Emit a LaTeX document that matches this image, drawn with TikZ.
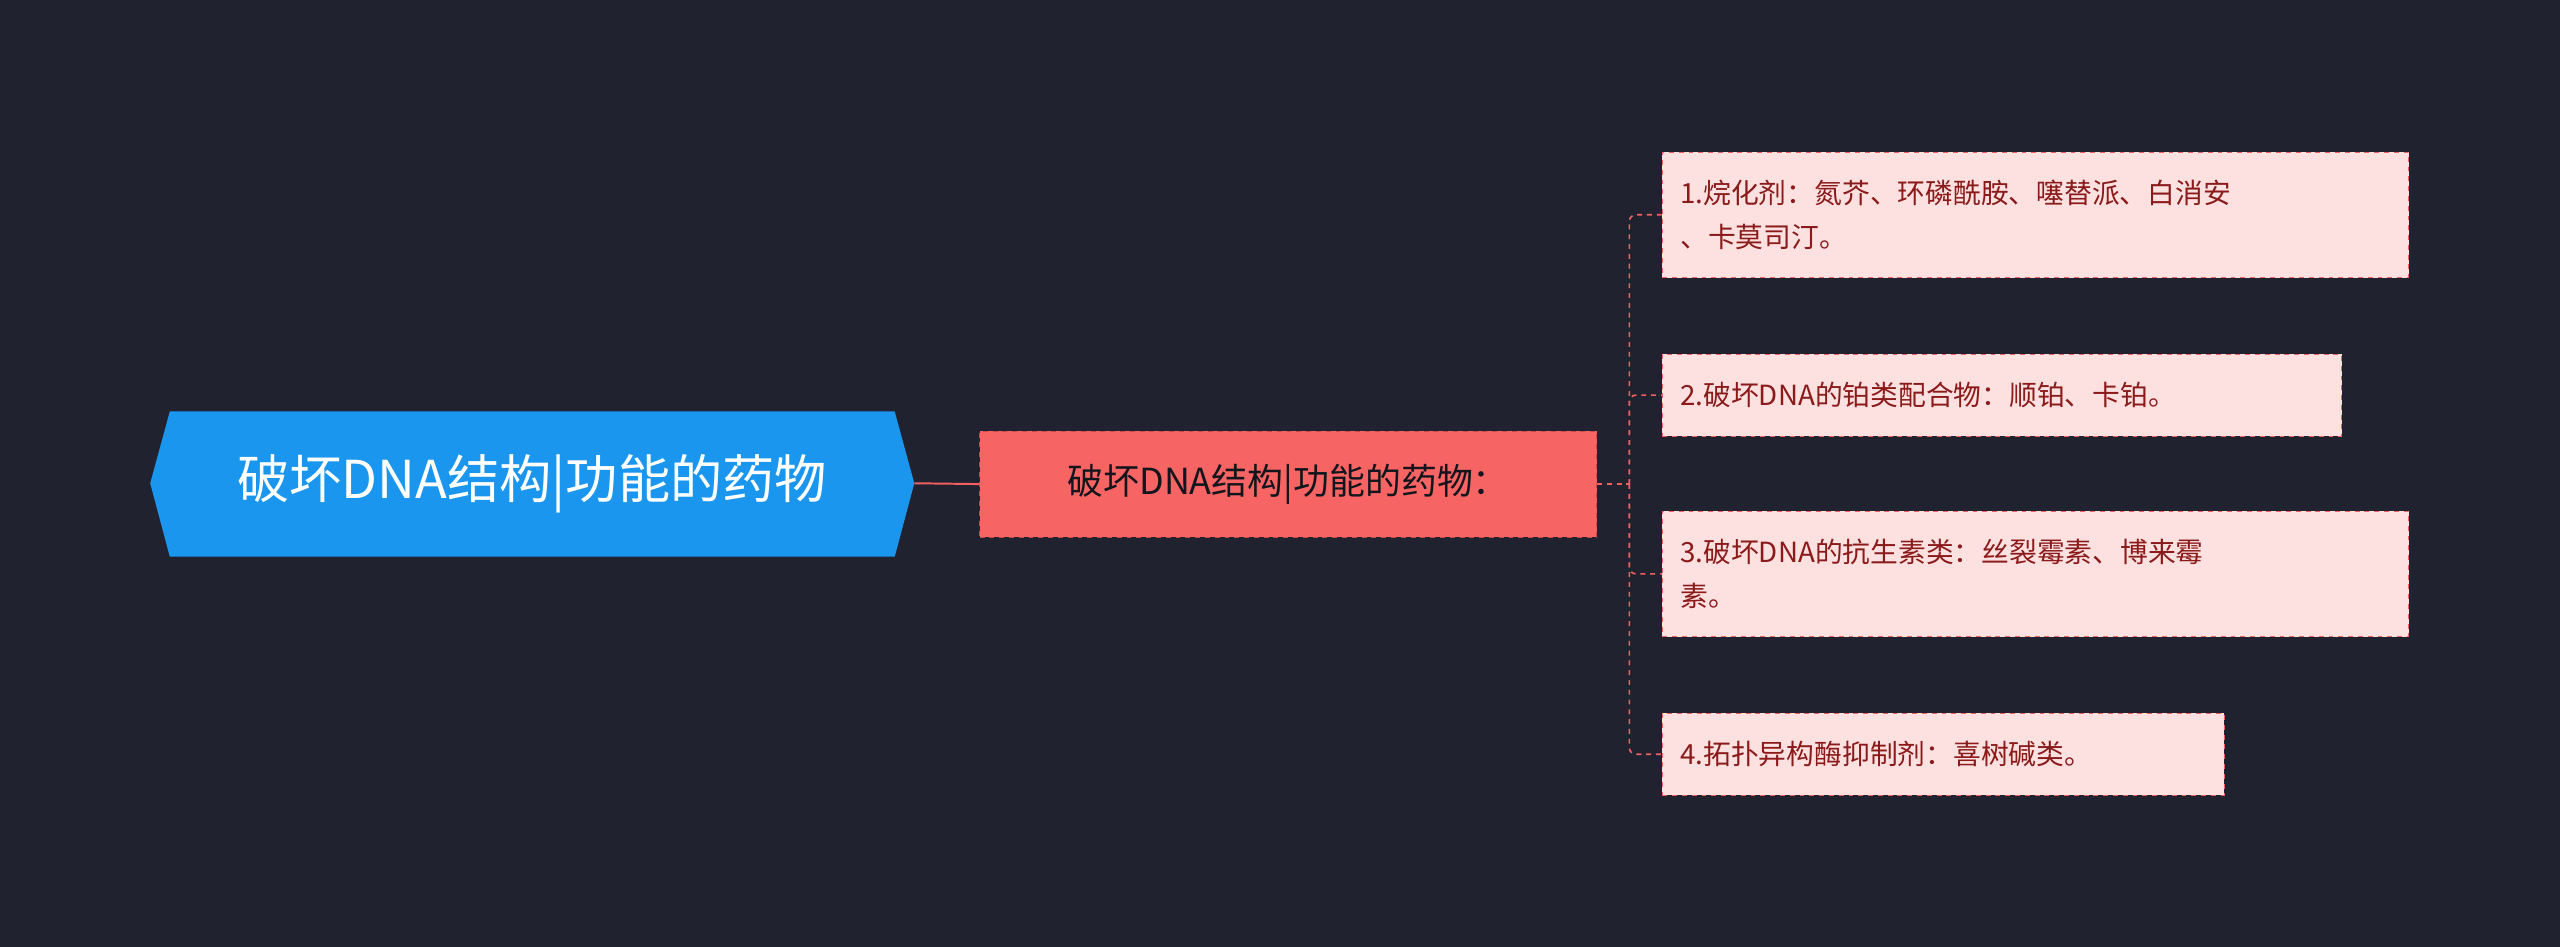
\documentclass[tikz,border=0pt]{standalone}
\usepackage{fontspec}
\setmainfont{Noto Sans CJK SC}
\definecolor{bg}{HTML}{20232F}
\definecolor{rootc}{HTML}{1A96EE}
\definecolor{midc}{HTML}{F76464}
\definecolor{midb}{HTML}{C94A4A}
\definecolor{leafc}{HTML}{FDE0E0}
\definecolor{leaft}{HTML}{8B1A1A}
\definecolor{linec}{HTML}{F06060}
\begin{document}
\begin{tikzpicture}[x=1pt,y=-1pt,
 leaf/.style={draw=linec,dashed,fill=leafc,text=leaft,font=\fontsize{17}{27}\selectfont,anchor=west,align=left,inner xsep=11pt,inner ysep=0pt},
 conn/.style={draw=linec,line width=1.2pt}]
\useasboundingbox[fill=bg] (0,0) rectangle (1568,580);
\fill[rootc] (92,296) -- (104,252) -- (548,252) -- (560,296) -- (548,341) -- (104,341) -- cycle;
\node[text=white,font=\fontsize{32}{36}\selectfont] (root) at (326,296) {破坏DNA结构|功能的药物};
\coordinate (rootE) at (560,296);
\node[draw=midb,dashed,fill=midc,text=bg!60!black,font=\fontsize{22}{26}\selectfont,minimum width=378pt,minimum height=65pt,inner sep=0pt] (mid) at (789,296.5) {破坏DNA结构|功能的药物：};
\draw[conn] (rootE) -- (mid.west);
\node[leaf,text width=435pt,minimum height=77pt] (l1) at (1018,131.5) {1.烷化剂：氮芥、环磷酰胺、噻替派、白消安\\、卡莫司汀。};
\node[leaf,text width=394pt,minimum height=50pt] (l2) at (1018,242) {2.破坏DNA的铂类配合物：顺铂、卡铂。};
\node[leaf,text width=435pt,minimum height=77pt] (l3) at (1018,351.5) {3.破坏DNA的抗生素类：丝裂霉素、博来霉\\素。};
\node[leaf,text width=322pt,minimum height=50pt] (l4) at (1018,462) {4.拓扑异构酶抑制剂：喜树碱类。};
\coordinate (j) at (998,296.5);
\draw[draw=linec,dashed,line width=1pt] (mid.east) -- (j);
\foreach \n in {l1,l2,l3,l4}
 \draw[draw=linec,dashed,line width=1pt,rounded corners=4pt] (j) |- (\n.west);
\end{tikzpicture}
\end{document}
